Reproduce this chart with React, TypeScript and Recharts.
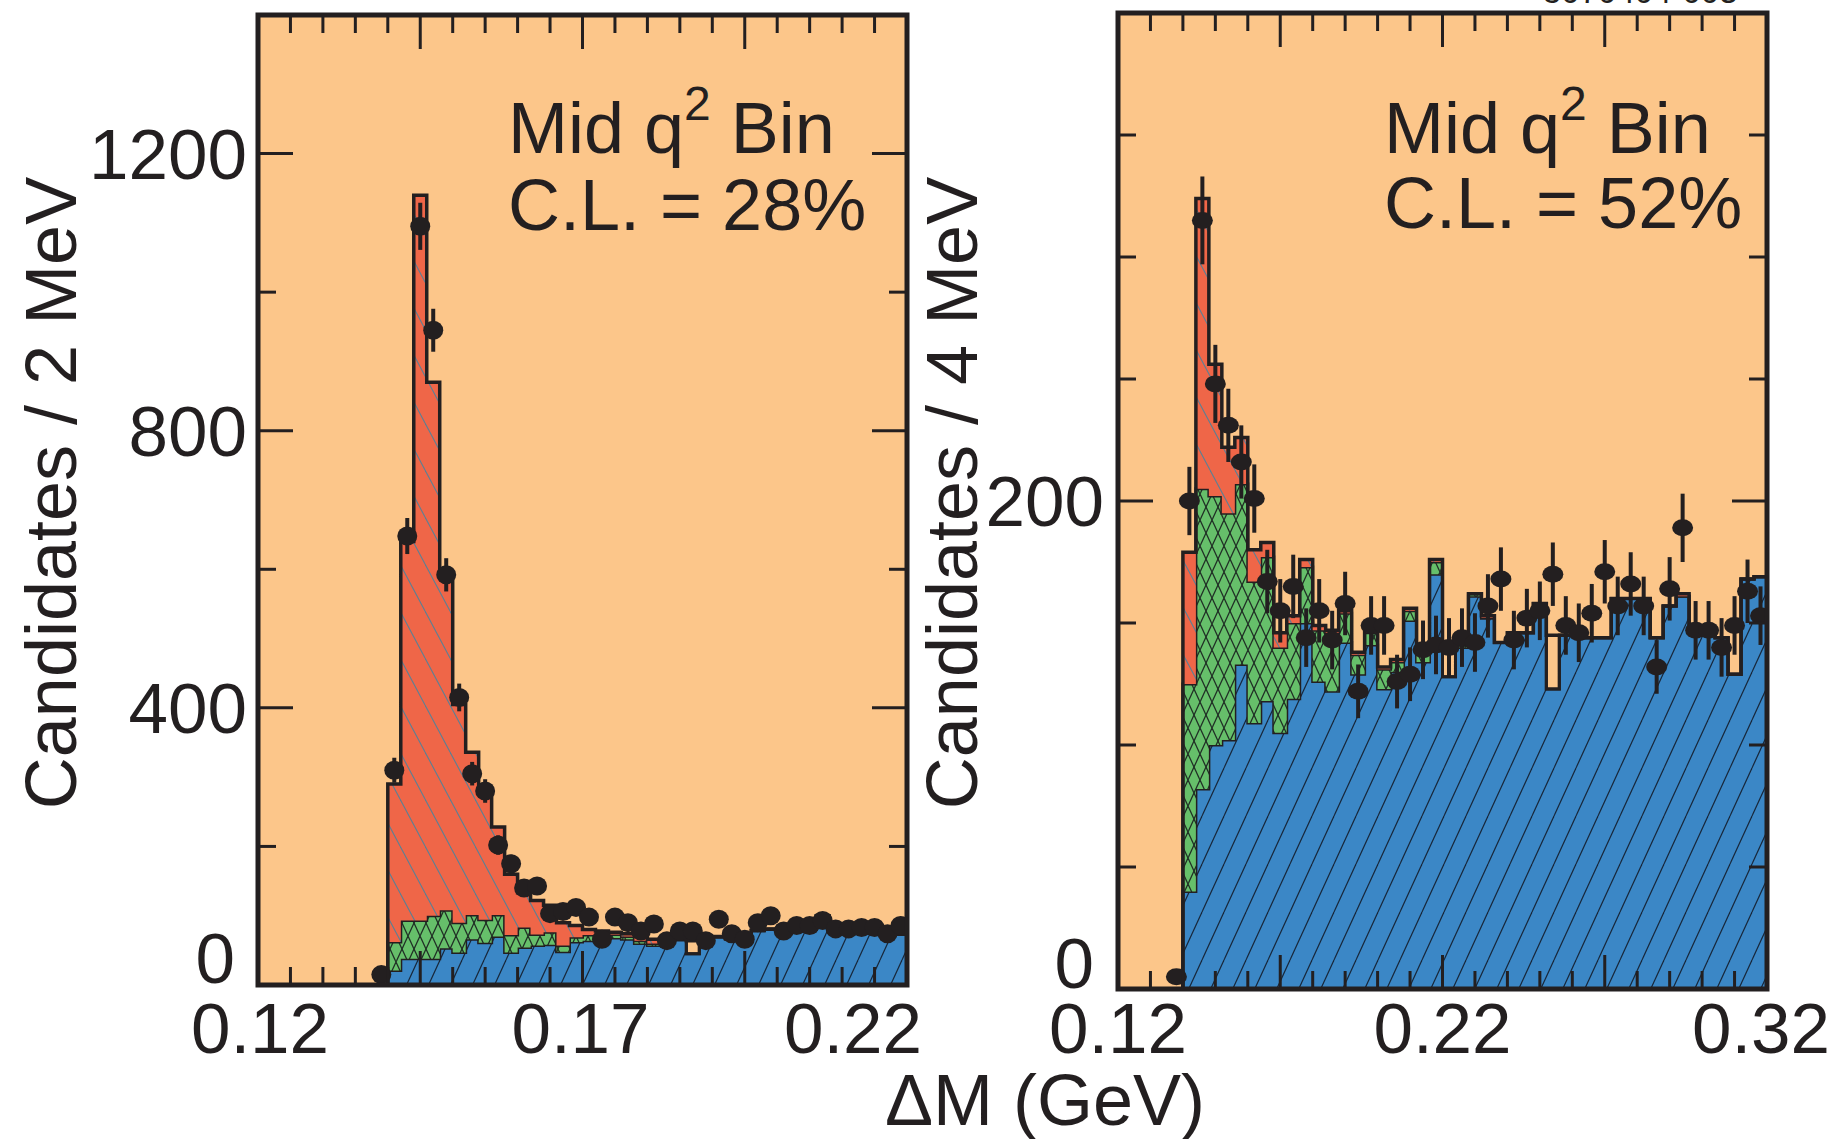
import React from 'react';
import { ComposedChart, Area, Line, Scatter, ErrorBar, XAxis, YAxis } from 'recharts';

const INK = '#231f20';
const PEACH = '#fcc68a';
const RED = '#ef6648';
const GREEN = '#66bf6a';
const BLUE = '#3b87c6';
const FONT = '"Liberation Sans", Arial, Helvetica, sans-serif';

// ---- left panel: 2 MeV bins starting at 0.12 GeV ----
const leftStart = 0.12;
const leftBinWidth = 0.002;
// cumulative tops of the stacked fit components (blue, blue+green) and the fit total
const leftBlue = [
  0, 0, 0, 0, 0, 0, 0, 0, 0, 0,
  21, 38, 38, 38, 53, 47, 66, 61, 70, 47,
  54, 57, 58, 48, 62, 64, 66, 68, 66, 60,
  57, 65, 65, 45, 65, 69, 66, 72, 78, 80,
  81, 82, 80, 98, 81, 80, 82, 81, 74, 73,
];
const leftGreen = [
  0, 0, 0, 0, 0, 0, 0, 0, 0, 0,
  62, 93, 93, 100, 108, 90, 101, 94, 101, 72,
  83, 73, 76, 57, 69, 72, 74, 73, 70, 64,
  60, 66, 66, 45, 66, 70, 67, 73, 79, 81,
  81, 82, 80, 98, 81, 80, 82, 81, 74, 73,
];
const leftTotal = [
  0, 0, 0, 0, 0, 0, 0, 0, 0, 0,
  290, 640, 1140, 870, 590, 405, 336, 280, 228, 160,
  133, 122, 115, 90, 86, 80, 78, 76, 74, 70,
  66, 67, 67, 64, 67, 70, 68, 74, 79, 81,
  82, 83, 81, 100, 82, 81, 83, 82, 75, 74,
];
const leftHollow = [33];
const leftCounts = [
  null, null, null, null, null, null, null, null, null, 15,
  310, 648, 1095, 945, 592, 415, 305, 280, 202, 175,
  140, 143, 103, 106, 112, 98, 66, 98, 90, 78,
  88, 64, 78, 78, 64, 95, 74, 66, 90, 100,
  78, 86, 86, 93, 81, 81, 83, 83, 74, 86,
];
const leftErrors = [
  0, 0, 0, 0, 0, 0, 0, 0, 0, 4,
  18, 26, 34, 31, 24, 20, 17, 17, 14, 13,
  12, 12, 10, 10, 11, 10, 8, 10, 9, 9,
  9, 8, 9, 9, 8, 10, 9, 8, 9, 10,
  9, 9, 9, 10, 9, 9, 9, 9, 9, 9,
];
const leftXLabels = ['0.12', '0.17', '0.22'];
const leftYLabels = ['0', '400', '800', '1200'];

// ---- right panel: 4 MeV bins starting at 0.12 GeV ----
const rightStart = 0.12;
const rightBinWidth = 0.004;
const rightBlue = [
  0, 0, 0, 0, 0, 40, 82, 100, 102, 133,
  109, 118, 105, 119, 150, 126, 122, 142, 129, 141,
  123, 130, 151, 134, 170, 128, 140, 161, 152, 142,
  146, 146, 158, 123, 145, 145, 144, 144, 160, 160,
  160, 144, 157, 161, 148, 148, 144, 129, 168, 169,
];
const rightGreen = [
  0, 0, 0, 0, 0, 125, 205, 202, 195, 207,
  167, 177, 140, 150, 173, 147, 146, 154, 137, 146,
  131, 134, 155, 139, 175, 128, 141, 162, 152, 142,
  146, 146, 158, 123, 145, 145, 144, 144, 160, 160,
  160, 144, 157, 161, 148, 148, 144, 129, 168, 169,
];
const rightTotal = [
  0, 0, 0, 0, 0, 179, 324, 256, 222, 226,
  180, 183, 146, 153, 176, 149, 147, 155, 138, 147,
  132, 135, 156, 140, 176, 140, 141, 162, 153, 142,
  146, 146, 158, 145, 145, 145, 144, 144, 160, 160,
  160, 144, 157, 162, 148, 148, 144, 129, 168, 169,
];
const rightHollow = [25, 33];
const rightCounts = [
  null, null, null, null, 5, 200, 315, 248, 231, 216,
  201, 167, 155, 165, 144, 155, 143, 158, 122, 149,
  149, 126, 129, 139, 141, 140, 144, 142, 157, 168,
  143, 152, 155, 170, 149, 146, 154, 171, 157, 166,
  157, 132, 164, 189, 147, 147, 140, 149, 163, 153,
];
const rightErrors = [
  0, 0, 0, 0, 3, 14, 18, 16, 15, 15,
  14, 13, 13, 13, 12, 13, 12, 13, 11, 12,
  12, 11, 11, 12, 12, 12, 12, 12, 13, 13,
  12, 12, 12, 13, 12, 12, 12, 13, 12, 13,
  12, 11, 13, 14, 12, 12, 12, 12, 13, 12,
];
const rightXLabels = ['0.12', '0.22', '0.32'];
const rightYLabels = ['0', '200'];

function histRows(start, width, blue, green, total, hollow) {
  const rows = blue.map((b, i) => {
    const fillTop = hollow.includes(i) ? green[i] : total[i];
    return { x: start + i * width, blue: b, green: green[i] - b, red: fillTop - green[i], total: total[i] };
  });
  rows.push({ ...rows[rows.length - 1], x: start + blue.length * width });
  return rows;
}

function pointRows(start, width, counts, errors) {
  return counts
    .map((c, i) => (c == null ? null : { x: start + (i + 0.5) * width, y: c, err: errors[i] }))
    .filter(Boolean);
}

function stepTicks(lo, hi, step) {
  const out = [];
  const n = Math.round((hi - lo) / step);
  for (let k = 0; k <= n; k++) out.push(Math.round((lo + k * step) * 1e6) / 1e6);
  return out;
}

const near = (a, b) => Math.abs(a - b) < 1e-7;
const isMultiple = (v, step) => near(Math.round(v / step) * step, v);

function Panel({ cfg }) {
  const { id, left, width, height, margin, xDomain, yDomain } = cfg;
  // the axes take 1px each (a zero-sized axis is not drawn)
  const plotLeft = margin.left + 1;
  const plotRight = width - margin.right;
  const plotTop = margin.top;
  const plotBottom = height - margin.bottom - 1;
  const rows = histRows(cfg.start, cfg.binWidth, cfg.blue, cfg.green, cfg.total, cfg.hollow);
  const pts = pointRows(cfg.start, cfg.binWidth, cfg.counts, cfg.errors);
  const xTicks = stepTicks(xDomain[0], xDomain[1], cfg.xMinor);
  const yTicks = stepTicks(yDomain[0], yDomain[1], cfg.yMinor);

  const xTick = (p) => {
    const { x, payload } = p;
    const v = payload.value;
    const major = isMultiple(v - xDomain[0], cfg.xMajor);
    const len = major ? 34 : 18;
    const li = cfg.xLabels.findIndex((t) => near(parseFloat(t), v));
    return (
      <g>
        <line x1={x} x2={x} y1={plotBottom} y2={plotBottom - len} stroke={INK} strokeWidth={3} />
        <line x1={x} x2={x} y1={plotTop} y2={plotTop + len} stroke={INK} strokeWidth={3} />
        {li >= 0 && (
          <text x={x + cfg.xLabelDx[li]} y={cfg.xLabelY} textAnchor="middle" fontSize={71} fontFamily={FONT} fill={INK}>
            {cfg.xLabels[li]}
          </text>
        )}
      </g>
    );
  };

  const yTick = (p) => {
    const { y, payload } = p;
    const v = payload.value;
    const major = isMultiple(v, cfg.yMajor);
    const len = major ? 35 : 18;
    const li = cfg.yLabels.findIndex((t) => near(parseFloat(t), v));
    return (
      <g>
        <line x1={plotLeft} x2={plotLeft + len} y1={y} y2={y} stroke={INK} strokeWidth={3} />
        <line x1={plotRight} x2={plotRight - len} y1={y} y2={y} stroke={INK} strokeWidth={3} />
        {li >= 0 && (
          <text
            x={plotLeft + cfg.yLabelDx[li]}
            y={y + 25 + cfg.yLabelDy[li]}
            textAnchor="end"
            fontSize={71}
            fontFamily={FONT}
            fill={INK}
          >
            {cfg.yLabels[li]}
          </text>
        )}
      </g>
    );
  };

  const dot = (p) => <ellipse cx={p.cx} cy={p.cy} rx={cfg.dotRx} ry={cfg.dotRy} fill={INK} />;

  return (
    <div style={{ position: 'absolute', left, top: 0, width, height }}>
      <div
        style={{
          position: 'absolute',
          left: plotLeft,
          top: plotTop,
          width: plotRight - plotLeft,
          height: plotBottom - plotTop,
          background: PEACH,
        }}
      />
      <div style={{ position: 'absolute', left: 0, top: 0 }}>
        <ComposedChart width={width} height={height} data={rows} margin={margin}>
          <defs>
            <pattern id={`${id}-blue`} patternUnits="userSpaceOnUse" width={22} height={48}>
              <rect width={22} height={48} fill={BLUE} />
              <line x1={0} y1={48} x2={22} y2={0} stroke="#16263a" strokeWidth={1.2} />
              <line x1={-22} y1={48} x2={0} y2={0} stroke="#16263a" strokeWidth={1.2} />
              <line x1={22} y1={48} x2={44} y2={0} stroke="#16263a" strokeWidth={1.2} />
            </pattern>
            <pattern id={`${id}-green`} patternUnits="userSpaceOnUse" width={12} height={26}>
              <rect width={12} height={26} fill={GREEN} />
              <line x1={0} y1={0} x2={12} y2={26} stroke="#1f2e24" strokeWidth={1.3} />
              <line x1={0} y1={26} x2={12} y2={0} stroke="#1f2e24" strokeWidth={1.3} />
            </pattern>
            <pattern id={`${id}-red`} patternUnits="userSpaceOnUse" width={25} height={47}>
              <rect width={25} height={47} fill={RED} />
              <line x1={0} y1={0} x2={25} y2={47} stroke="#5d7f92" strokeWidth={1.1} />
              <line x1={-25} y1={0} x2={0} y2={47} stroke="#5d7f92" strokeWidth={1.1} />
              <line x1={25} y1={0} x2={50} y2={47} stroke="#5d7f92" strokeWidth={1.1} />
            </pattern>
          </defs>
          <Area type="stepAfter" dataKey="blue" stackId="s" fill={`url(#${id}-blue)`} fillOpacity={1} stroke={INK} strokeWidth={3} isAnimationActive={false} />
          <Area type="stepAfter" dataKey="green" stackId="s" fill={`url(#${id}-green)`} fillOpacity={1} stroke={INK} strokeWidth={3} isAnimationActive={false} />
          <Area type="stepAfter" dataKey="red" stackId="s" fill={`url(#${id}-red)`} fillOpacity={1} stroke="none" isAnimationActive={false} />
          <Line type="stepAfter" dataKey="total" stroke={INK} strokeWidth={3.5} dot={false} activeDot={false} isAnimationActive={false} />
          <Scatter data={pts} dataKey="y" shape={dot} isAnimationActive={false}>
            <ErrorBar dataKey="err" direction="y" width={0} stroke={INK} strokeWidth={4} />
          </Scatter>
          <XAxis
            type="number"
            dataKey="x"
            domain={xDomain}
            allowDataOverflow
            ticks={xTicks}
            interval={0}
            height={1}
            tickSize={0}
            tickMargin={0}
            axisLine={false}
            tickLine={false}
            tick={xTick}
          />
          <YAxis
            type="number"
            dataKey="y"
            domain={yDomain}
            allowDataOverflow
            ticks={yTicks}
            interval={0}
            width={1}
            tickSize={0}
            tickMargin={0}
            axisLine={false}
            tickLine={false}
            tick={yTick}
          />
        </ComposedChart>
      </div>
    </div>
  );
}

const leftCfg = {
  id: 'L',
  left: 0,
  width: 1000,
  height: 1139,
  margin: { top: 15, left: 257, right: 93, bottom: 153 },
  xDomain: [0.12, 0.22],
  yDomain: [0, 1400],
  xMinor: 0.005,
  xMajor: 0.025,
  yMinor: 200,
  yMajor: 400,
  start: leftStart,
  binWidth: leftBinWidth,
  blue: leftBlue,
  green: leftGreen,
  total: leftTotal,
  hollow: leftHollow,
  counts: leftCounts,
  errors: leftErrors,
  dotRx: 10,
  dotRy: 9.5,
  xLabels: leftXLabels,
  xLabelDx: [2, -2, -54],
  xLabelY: 1053,
  yLabels: leftYLabels,
  yLabelDx: [-23, -11, -11, -11],
  yLabelDy: [-27, 0, 0, 0],
};

const rightCfg = {
  id: 'R',
  left: 960,
  width: 881,
  height: 1139,
  margin: { top: 13, left: 157, right: 74, bottom: 149 },
  xDomain: [0.12, 0.32],
  yDomain: [0, 400],
  xMinor: 0.01,
  xMajor: 0.05,
  yMinor: 50,
  yMajor: 200,
  start: rightStart,
  binWidth: rightBinWidth,
  blue: rightBlue,
  green: rightGreen,
  total: rightTotal,
  hollow: rightHollow,
  counts: rightCounts,
  errors: rightErrors,
  dotRx: 10.5,
  dotRy: 8.5,
  xLabels: rightXLabels,
  xLabelDx: [0, 0, -6],
  xLabelY: 1053,
  yLabels: rightYLabels,
  yLabelDx: [-24, -14],
  yLabelDy: [-26, 0],
};

export default function App() {
  const txt = { fontFamily: FONT, fill: INK, fontSize: 72 };
  return (
    <div style={{ position: 'fixed', left: 0, top: 0, width: 1841, height: 1139, background: '#fff', overflow: 'hidden' }}>
      <Panel cfg={leftCfg} />
      <Panel cfg={rightCfg} />
      <svg width={1841} height={1139} style={{ position: 'absolute', left: 0, top: 0, pointerEvents: 'none' }}>
        <rect x={258} y={15} width={649} height={970} fill="none" stroke={INK} strokeWidth={5} />
        <rect x={1118} y={13} width={649} height={976} fill="none" stroke={INK} strokeWidth={5} />
        <text x={1543} y={3} fontFamily={FONT} fontSize={33} fill={INK}>5070404-003</text>
        <text {...txt} x={508} y={153}>
          Mid q<tspan dy={-33} fontSize={48}>2</tspan>
          <tspan dy={33}> Bin</tspan>
        </text>
        <text {...txt} x={508} y={230}>C.L. = 28%</text>
        <text {...txt} x={1384} y={153}>
          Mid q<tspan dy={-33} fontSize={48}>2</tspan>
          <tspan dy={33}> Bin</tspan>
        </text>
        <text {...txt} x={1384} y={228}>C.L. = 52%</text>
        <text {...txt} transform="translate(76,493) rotate(-90)" textAnchor="middle">Candidates / 2 MeV</text>
        <text {...txt} transform="translate(977,493) rotate(-90)" textAnchor="middle">Candidates / 4 MeV</text>
        <text {...txt} x={1045} y={1125} textAnchor="middle">ΔM (GeV)</text>
      </svg>
    </div>
  );
}
